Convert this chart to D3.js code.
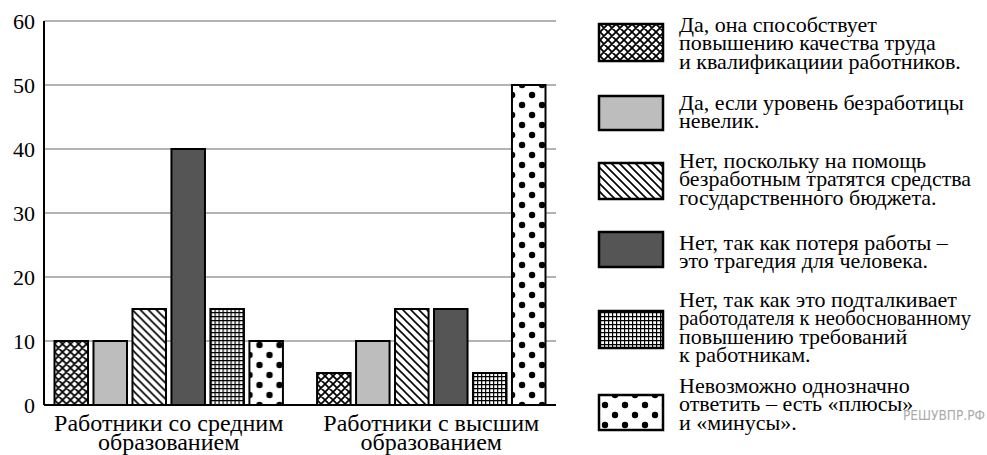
<!DOCTYPE html>
<html>
<head>
<meta charset="utf-8">
<script src="https://cdn.jsdelivr.net/npm/d3@7"></script>
<style>
  body { margin: 0; background: #fff; }
</style>
</head>
<body>
<div id="chart"></div>
<script>
// Data
const groups = ["Работники со средним\nобразованием", "Работники с высшим\nобразованием"];
const answers = [
    "Да, она способствует\nповышению качества труда\nи квалификациии работников.",
    "Да, если уровень безработицы\nневелик.",
    "Нет, поскольку на помощь\nбезработным тратятся средства\nгосударственного бюджета.",
    "Нет, так как потеря работы –\nэто трагедия для человека.",
    "Нет, так как это подталкивает\nработодателя к необоснованному\nповышению требований\nк работникам.",
    "Невозможно однозначно\nответить – есть «плюсы»\nи «минусы»."
];
const secondaryValues = [10, 10, 15, 40, 15, 10];
const higherValues = [5, 10, 15, 15, 5, 50];
const yTicks = [0, 10, 20, 30, 40, 50, 60];

const fills = ["url(#p-cross)", "#bdbdbd", "url(#p-diag)", "#555555", "url(#p-grid)", "url(#p-dots)"];
const serif = '"Liberation Serif"';

const width = 987, height = 455;
const margin = { left: 44, right: 431, top: 21, bottom: 50 };

const svg = d3.select("#chart").append("svg")
    .attr("width", width)
    .attr("height", height);

// Patterns
const defs = svg.append("defs");

const cross = defs.append("pattern").attr("id", "p-cross")
    .attr("patternUnits", "userSpaceOnUse").attr("width", 8).attr("height", 8);
cross.append("rect").attr("width", 8).attr("height", 8).attr("fill", "#fff");
cross.append("path").attr("d", "M-2,2 L2,-2 M0,8 L8,0 M6,10 L10,6 M-2,6 L2,10 M0,0 L8,8 M6,-2 L10,2")
    .attr("stroke", "#000").attr("stroke-width", 1.8);

const diag = defs.append("pattern").attr("id", "p-diag")
    .attr("patternUnits", "userSpaceOnUse").attr("width", 8).attr("height", 8);
diag.append("rect").attr("width", 8).attr("height", 8).attr("fill", "#fff");
diag.append("path").attr("d", "M-2,-2 L10,10 M-2,6 L2,10 M6,-2 L10,2")
    .attr("stroke", "#000").attr("stroke-width", 1.6);

const grid = defs.append("pattern").attr("id", "p-grid")
    .attr("patternUnits", "userSpaceOnUse").attr("width", 4).attr("height", 4);
grid.append("rect").attr("width", 4).attr("height", 4).attr("fill", "#fff");
grid.append("path").attr("d", "M0,0.5 H4 M0.5,0 V4")
    .attr("stroke", "#000").attr("stroke-width", 1.4);

const dots = defs.append("pattern").attr("id", "p-dots")
    .attr("patternUnits", "userSpaceOnUse").attr("width", 20).attr("height", 20);
dots.append("rect").attr("width", 20).attr("height", 20).attr("fill", "#fff");
[[5, 5], [15, 15]].forEach(([cx, cy]) => {
    dots.append("circle").attr("cx", cx).attr("cy", cy).attr("r", 3.2).attr("fill", "#000");
});

// Scales
const x0 = d3.scaleBand()
    .domain(d3.range(groups.length))
    .range([margin.left, width - margin.right])
    .paddingInner(0.13)
    .paddingOuter(0.04);

const x1 = d3.scaleBand()
    .domain(d3.range(answers.length))
    .range([0, x0.bandwidth()])
    .paddingInner(0.14);

const y = d3.scaleLinear()
    .domain([0, 60])
    .range([height - margin.bottom, margin.top]);

// Gridlines
svg.append("g")
    .selectAll("line")
    .data(yTicks.filter(d => d > 0))
    .enter().append("line")
    .attr("x1", margin.left)
    .attr("x2", width - margin.right)
    .attr("y1", d => y(d))
    .attr("y2", d => y(d))
    .attr("stroke", "#9a9a9a")
    .attr("stroke-width", 1.5);

// Y tick labels
svg.append("g")
    .selectAll("text")
    .data(yTicks)
    .enter().append("text")
    .attr("x", 35)
    .attr("y", d => y(d))
    .attr("dy", "0.35em")
    .attr("text-anchor", "end")
    .style("font-family", serif)
    .style("font-size", "22px")
    .text(d => d);

// Bars
const series = [secondaryValues, higherValues];
const groupG = svg.append("g")
    .selectAll("g")
    .data(series)
    .enter().append("g")
    .attr("transform", (d, i) => `translate(${x0(i)},0)`);

groupG.selectAll("rect")
    .data(d => d)
    .enter().append("rect")
    .attr("x", (d, i) => x1(i))
    .attr("width", x1.bandwidth())
    .attr("y", d => y(d))
    .attr("height", d => y(0) - y(d))
    .attr("fill", (d, i) => fills[i])
    .attr("stroke", "#000")
    .attr("stroke-width", 2);

// Axes lines
svg.append("line")
    .attr("x1", margin.left).attr("x2", margin.left)
    .attr("y1", y(60)).attr("y2", y(0))
    .attr("stroke", "#000").attr("stroke-width", 2);
svg.append("line")
    .attr("x1", margin.left).attr("x2", width - margin.right)
    .attr("y1", y(0)).attr("y2", y(0))
    .attr("stroke", "#000").attr("stroke-width", 2);

// Group labels
svg.append("g")
    .selectAll("text")
    .data(groups)
    .enter().append("text")
    .attr("text-anchor", "middle")
    .style("font-family", serif)
    .style("font-size", "24px")
    .each(function(d, i) {
        const t = d3.select(this);
        d.split("\n").forEach((line, j) => {
            t.append("tspan")
                .attr("x", x0(i) + x0.bandwidth() / 2)
                .attr("y", 431 + j * 18.5)
                .text(line);
        });
    });

// Legend
const swatchTops = [24, 96, 163, 232, 311, 395];
const swatchHeights = [37, 34, 36, 35, 37, 35];
const textTops = [32, 110, 168, 250, 307, 393];

const legend = svg.append("g");
legend.selectAll("rect")
    .data(answers)
    .enter().append("rect")
    .attr("x", 599)
    .attr("y", (d, i) => swatchTops[i])
    .attr("width", 64)
    .attr("height", (d, i) => swatchHeights[i])
    .attr("fill", (d, i) => fills[i])
    .attr("stroke", "#000")
    .attr("stroke-width", 2.5);

legend.selectAll("text")
    .data(answers)
    .enter().append("text")
    .style("font-family", serif)
    .style("font-size", "22px")
    .each(function(d, i) {
        const t = d3.select(this);
        d.split("\n").forEach((line, j) => {
            const ts = t.append("tspan")
                .attr("x", 679)
                .attr("y", textTops[i] + j * 18.3)
                .text(line);
            // keep long lines inside the page
            if (ts.node().getComputedTextLength() > 292) {
                ts.attr("textLength", 292).attr("lengthAdjust", "spacingAndGlyphs");
            }
        });
    });

// Watermark
svg.append("text")
    .attr("x", 903)
    .attr("y", 420)
    .attr("textLength", 82)
    .attr("lengthAdjust", "spacingAndGlyphs")
    .style("font-family", '"DejaVu Sans"')
    .style("font-size", "14px")
    .attr("fill", "#ababab")
    .text("РЕШУВПР.РФ");
</script>
</body>
</html>
